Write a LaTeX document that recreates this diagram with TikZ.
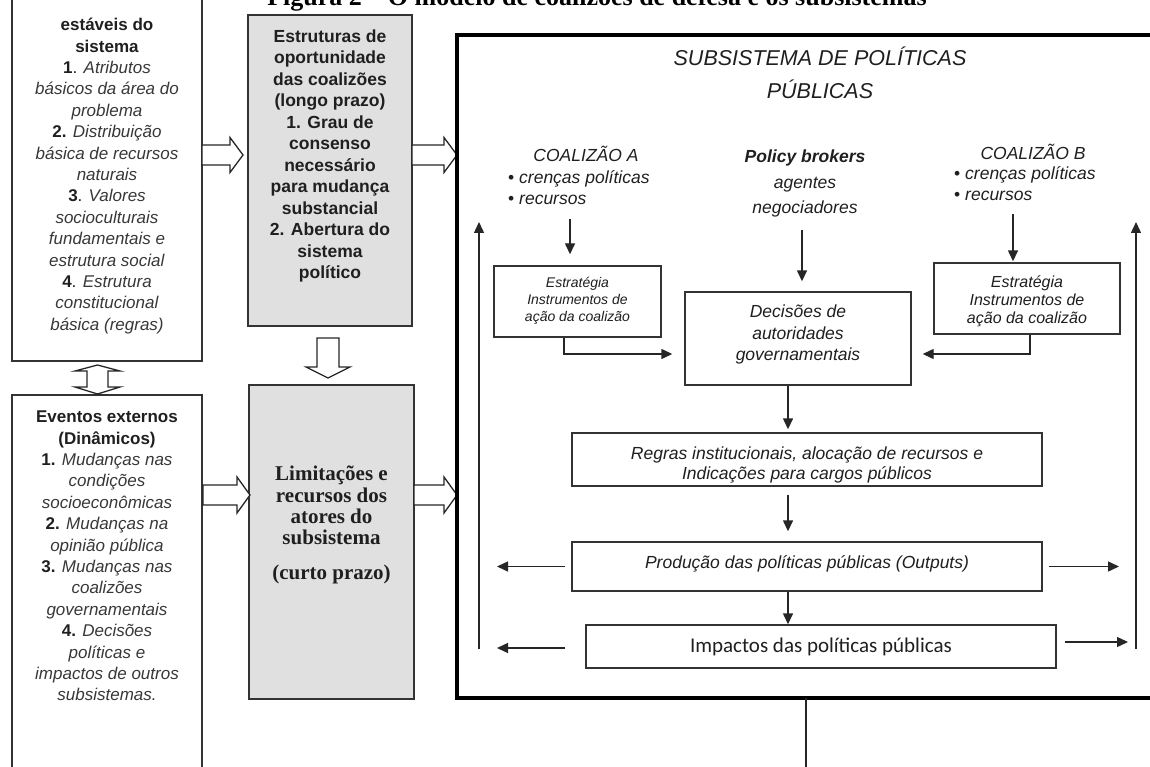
\documentclass[tikz,border=0pt]{standalone}
\usepackage{fontspec}
\setmainfont{Liberation Sans}
\newfontfamily\timesfont{Liberation Serif}
\newfontfamily\calibrifont{Carlito}
\usetikzlibrary{arrows.meta,calc}
\newcommand\fs[2]{\fontsize{#1}{#2}\selectfont}
\newcommand\topstrut{\rule{0pt}{1em}}
\colorlet{ink}{black!88}
\colorlet{soft}{black!78}

\begin{document}
\begin{tikzpicture}[x=1pt,y=-1pt,
  box/.style={draw=black!80, line width=1.4pt, fill=white, inner sep=0pt},
  graybox/.style={box, fill=black!12},
  bigline/.style={draw=black, line width=4pt},
  txt/.style={inner sep=0pt, align=center, text=ink},
  arr/.style={-{Triangle[length=11pt,width=10pt]}, line width=1.4pt, draw=black!85},
  blockarrow/.style={draw=black!85, line width=1.3pt, fill=white, line join=miter},
  plain/.style={line width=1.4pt, draw=black!85},
]
\useasboundingbox (0,0) rectangle (1150,767);
\clip (0,0) rectangle (1150,767);

% caption above the figure
\node[anchor=base, inner sep=0pt, font=\timesfont\bfseries\fs{26}{30}] (caption) at (597,6)
  {Figura 2 – O modelo de coalizões de defesa e os subsistemas};

% ---------- left column ----------
\node[box, minimum width=190pt, minimum height=391pt] (ltop) at (107,165.5) {};
\node[txt, anchor=north, font=\fs{17}{21.4}] (ltoptext) at (107,13.5) {%
  \topstrut\textbf{estáveis do}\\
  \textbf{sistema}\\
  \textbf{1}. \textcolor{soft}{\textit{Atributos}}\\
  \textcolor{soft}{\textit{básicos da área do}}\\
  \textcolor{soft}{\textit{problema}}\\
  \textbf{2.} \textcolor{soft}{\textit{Distribuição}}\\
  \textcolor{soft}{\textit{básica de recursos}}\\
  \textcolor{soft}{\textit{naturais}}\\
  \textbf{3}. \textcolor{soft}{\textit{Valores}}\\
  \textcolor{soft}{\textit{socioculturais}}\\
  \textcolor{soft}{\textit{fundamentais e}}\\
  \textcolor{soft}{\textit{estrutura social}}\\
  \textbf{4}. \textcolor{soft}{\textit{Estrutura}}\\
  \textcolor{soft}{\textit{constitucional}}\\
  \textcolor{soft}{\textit{básica (regras)}}};

\node[box, minimum width=190pt, minimum height=405pt] (lbot) at (107,597.5) {};
\node[txt, anchor=north, font=\fs{17}{21.4}] (lbottext) at (107,405.5) {%
  \topstrut\textbf{Eventos externos}\\
  \textbf{(Dinâmicos)}\\
  \textbf{1.} \textcolor{soft}{\textit{Mudanças nas}}\\
  \textcolor{soft}{\textit{condições}}\\
  \textcolor{soft}{\textit{socioeconômicas}}\\
  \textbf{2.} \textcolor{soft}{\textit{Mudanças na}}\\
  \textcolor{soft}{\textit{opinião pública}}\\
  \textbf{3.} \textcolor{soft}{\textit{Mudanças nas}}\\
  \textcolor{soft}{\textit{coalizões}}\\
  \textcolor{soft}{\textit{governamentais}}\\
  \textbf{4.} \textcolor{soft}{\textit{Decisões}}\\
  \textcolor{soft}{\textit{políticas e}}\\
  \textcolor{soft}{\textit{impactos de outros}}\\
  \textcolor{soft}{\textit{subsistemas.}}};

% double block arrow between the two left boxes
\draw[blockarrow] (97.5,365) -- (120,371) -- (108,371) -- (108,387) -- (120,387)
  -- (97.5,394) -- (75,387) -- (87,387) -- (87,371) -- (75,371) -- cycle;

% ---------- middle column ----------
\node[graybox, minimum width=164pt, minimum height=311pt] (mtop) at (330,170.5) {};
\node[txt, anchor=north, font=\bfseries\fs{17.5}{21.5}] (mtoptext) at (330,24.5) {%
  \topstrut Estruturas de\\
  oportunidade\\
  das coalizões\\
  (longo prazo)\\
  1. Grau de\\
  consenso\\
  necessário\\
  para mudança\\
  substancial\\
  2. Abertura do\\
  sistema\\
  político};

\node[graybox, minimum width=165pt, minimum height=314pt] (mbot) at (331.5,542) {};
\node[txt, anchor=north, font=\timesfont\bfseries\fs{21}{21.4}] (mbottext) at (331.5,459.5) {%
  \topstrut Limitações e\\
  recursos dos\\
  atores do\\
  subsistema};
\node[txt, anchor=base, font=\timesfont\bfseries\fs{21}{21.4}] (mbotterm) at (331.5,579.5)
  {(curto prazo)};

% block arrow between the middle boxes
\draw[blockarrow] (317,338) -- (339,338) -- (339,367) -- (350,367) -- (328,378)
  -- (306,367) -- (317,367) -- cycle;

% horizontal block arrows
\draw[blockarrow] (202,145) -- (230,145) -- (230,137.5) -- (243,155) -- (230,172.5)
  -- (230,165) -- (202,165) -- cycle;
\draw[blockarrow] (412,145) -- (444,145) -- (444,137.5) -- (457,155) -- (444,172.5)
  -- (444,165) -- (412,165) -- cycle;
\draw[blockarrow] (203,485) -- (237,485) -- (237,477) -- (250,495) -- (237,513)
  -- (237,505) -- (203,505) -- cycle;
\draw[blockarrow] (414,485) -- (444,485) -- (444,477) -- (457,495) -- (444,513)
  -- (444,505) -- (414,505) -- cycle;

% ---------- policy subsystem ----------
% the frame runs on past the right edge, so only three sides are drawn
\node[inner sep=0pt, minimum width=803pt, minimum height=663pt] (big) at (858.5,366.5) {};
\draw[bigline] (big.north east) -- (big.north west) -- (big.south west) -- (big.south east);
\coordinate (exit) at (806,790);
\draw[plain] (big.south -| exit) -- (exit);

\node[txt, anchor=north, font=\itshape\fs{21.5}{33}] (subtitle) at (820,44.2) {%
  \topstrut SUBSISTEMA DE POLÍTICAS\\ PÚBLICAS};

% coalition A
\node[txt, anchor=base, font=\itshape\fs{17.5}{21}] (coalA) at (586,161.3) {COALIZÃO A};
\node[txt, anchor=north west, align=left, font=\fs{17.5}{21}] (coalAlist) at (508,166) {%
  \topstrut• \textit{crenças políticas}\\ • \textit{recursos}};
% policy brokers
\node[txt, anchor=north, font=\fs{17.5}{25.5}] (brokers) at (805,145) {%
  \topstrut\textbf{\textit{Policy brokers}}\\ \textit{agentes}\\ \textit{negociadores}};
% coalition B
\node[txt, anchor=base, font=\itshape\fs{17.5}{21}] (coalB) at (1033,159.3) {COALIZÃO B};
\node[txt, anchor=north west, align=left, font=\fs{17.5}{21}] (coalBlist) at (954,162) {%
  \topstrut• \textit{crenças políticas}\\ • \textit{recursos}};

% strategy boxes
\node[box, minimum width=167pt, minimum height=71pt] (stratA) at (577.5,301.5) {};
\node[txt, anchor=north, font=\itshape\fs{14}{17}] (stratAtext) at (577.5,273.5) {%
  \topstrut Estratégia\\ Instrumentos de\\ ação da coalizão};
\node[box, minimum width=186pt, minimum height=71pt] (stratB) at (1027,298.5) {};
\node[txt, anchor=north, font=\itshape\fs{16}{18}] (stratBtext) at (1027,271.5) {%
  \topstrut Estratégia\\ Instrumentos de\\ ação da coalizão};

% decisions
\node[box, minimum width=226pt, minimum height=93pt] (dec) at (798,338.5) {};
\node[txt, anchor=north, font=\itshape\fs{17.5}{21.5}] (dectext) at (798,300) {%
  \topstrut Decisões de\\ autoridades\\ governamentais};

% rules, outputs, impacts
\node[box, minimum width=470pt, minimum height=53pt] (regras) at (807,459.5) {};
\node[txt, anchor=north, font=\itshape\fs{17.5}{20}] (regrastext) at (807,442) {%
  \topstrut Regras institucionais, alocação de recursos e\\ Indicações para cargos públicos};
\node[box, minimum width=470pt, minimum height=49pt] (prod) at (807,566.5) {};
\node[txt, anchor=base, font=\itshape\fs{17.5}{21}] (prodtext) at (807,568.5)
  {Produção das políticas públicas (Outputs)};
\node[box, minimum width=470pt, minimum height=43pt] (imp) at (821,646.5) {};
\node[txt, anchor=base, font=\calibrifont\fs{21}{24}] (imptext) at (821,652)
  {Impactos das políticas públicas};

% ---------- connectors ----------
\coordinate (aA) at (570,219);
\draw[arr, shorten >=11pt] (aA) -- (aA |- stratA.north);
\coordinate (aP) at (802,230);
\draw[arr, shorten >=10pt] (aP) -- (aP |- dec.north);
\coordinate (aB) at (1013,214);
\draw[arr, shorten >=1pt] (aB) -- (aB |- stratB.north);

\coordinate (jA) at (564,354);
\draw[arr, shorten >=12pt] (stratA.south -| jA) -- (jA) -- (jA -| dec.west);
\coordinate (jB) at (1030,354);
\draw[arr, shorten >=11pt] (stratB.south -| jB) -- (jB) -- (jB -| dec.east);

\coordinate (spine) at (788,0);
\draw[arr, shorten >=3pt] (dec.south -| spine) -- (regras.north -| spine);
\draw[arr, shorten <=8pt, shorten >=10pt] (regras.south -| spine) -- (prod.north -| spine);
\draw[arr] (prod.south -| spine) -- (imp.north -| spine);

% feedback lines
\coordinate (fbL) at (479,649);
\coordinate (fbR) at (1136,649);
\draw[arr] (fbL) -- (fbL |- 0,222);
\draw[arr] (fbR) -- (fbR |- 0,222);

\draw[arr, shorten <=6pt, shorten >=18pt] (prod.west) -- (prod.west -| fbL);
\draw[arr, shorten <=6pt, shorten >=17pt] (prod.east) -- (prod.east -| fbR);
\draw[arr, shorten <=20pt, shorten >=18pt] ([yshift=-1.5pt]imp.west) -- ([yshift=-1.5pt]imp.west -| fbL);
\draw[arr, shorten <=8pt, shorten >=8pt] ([yshift=4.5pt]imp.east) -- ([yshift=4.5pt]imp.east -| fbR);
\end{tikzpicture}
\end{document}
